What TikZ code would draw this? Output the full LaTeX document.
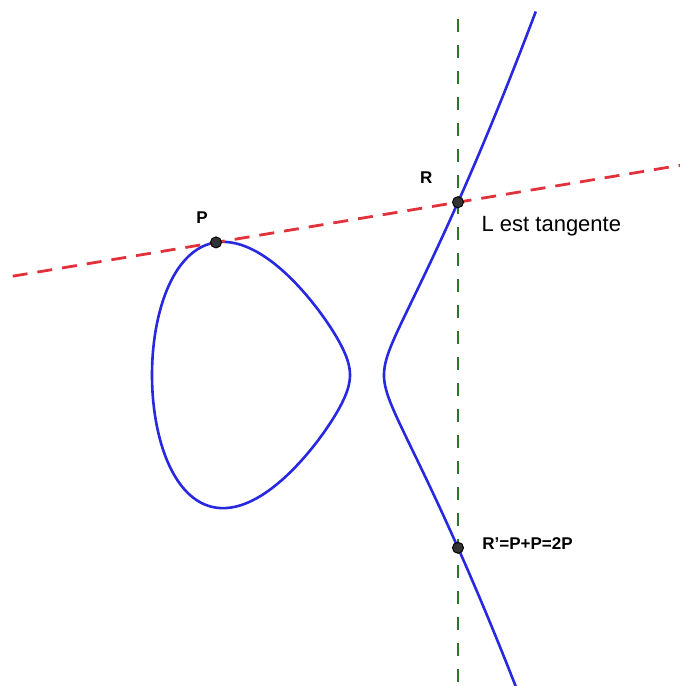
\documentclass[tikz,border=0pt]{standalone}
\usepackage{fontspec}
\setmainfont{Liberation Sans}
\usetikzlibrary{positioning, calc, backgrounds}
\definecolor{curveblue}{RGB}{40,40,225}
\definecolor{tanred}{RGB}{225,50,60}
\definecolor{vertgreen}{RGB}{40,120,40}

\begin{document}
\begin{tikzpicture}[x=50pt,y=-50pt,
  every node/.style={font=\small},
  curve/.style={draw=curveblue,line width=1.3pt},
  tangent/.style={draw=tanred,line width=1.4pt,dash pattern=on 7.5pt off 5pt},
  vertical/.style={draw=vertgreen,line width=1.2pt,dash pattern=on 6.5pt off 6.5pt},
  pt/.style={circle,fill=black!80,draw=black,line width=.5pt,inner sep=0pt,
    minimum size=5.5pt},
  ptlabel/.style={font=\fontsize{8.5}{10}\selectfont\bfseries,inner sep=1pt},
  note/.style={font=\fontsize{11}{13}\selectfont,inner sep=0pt}]
 \useasboundingbox (0,0) rectangle (6.8,6.86);
 % points on the curve
 \node[pt] (P) at (2.16,2.424) {};
 \node[pt] (R) at (4.58,2.022) {};
 \node[pt] (Rp) at (4.58,5.478) {};
 \node[ptlabel,above=5.2pt of P,xshift=-7pt] (Pl) {P};
 \node[ptlabel,above left=6pt and 9.5pt of R] (Rl) {R};
 \node[note,below right=5pt and 9.5pt of R] (Rn) {L est tangente};
 \node[ptlabel,right=8pt of Rp,yshift=2pt] (Rpl) {R\char"27=P+P=2P};
 \coordinate (Lw) at ($(P)!-0.84!(R)$);
 \coordinate (Le) at ($(R)!-0.95!(P)$);
 \coordinate (Vn) at ($(R)+(0,-1.83)$);
 \coordinate (Vs) at ($(Rp)+(0,1.5)$);
 \begin{scope}[on background layer]
  \clip (0,0) rectangle (6.8,6.86);
  \draw[curve] plot[domain=0:360,samples=121,smooth,variable=\t]
    ({2.51+0.99*cos(\t)},{3.75-1.105*0.99*sin(\t)*sqrt(1.33-0.99*cos(\t))}) -- cycle;
  \draw[curve] plot[domain=-1.25:1.233,samples=100,smooth,variable=\t]
    ({3.84+\t*\t},{3.75-1.105*\t*sqrt((2.32+\t*\t)*(0.34+\t*\t))});
  \draw[vertical] (Vn) -- (Vs);
  \draw[tangent] (Lw) -- (Le);
 \end{scope}
\end{tikzpicture}
\end{document}
